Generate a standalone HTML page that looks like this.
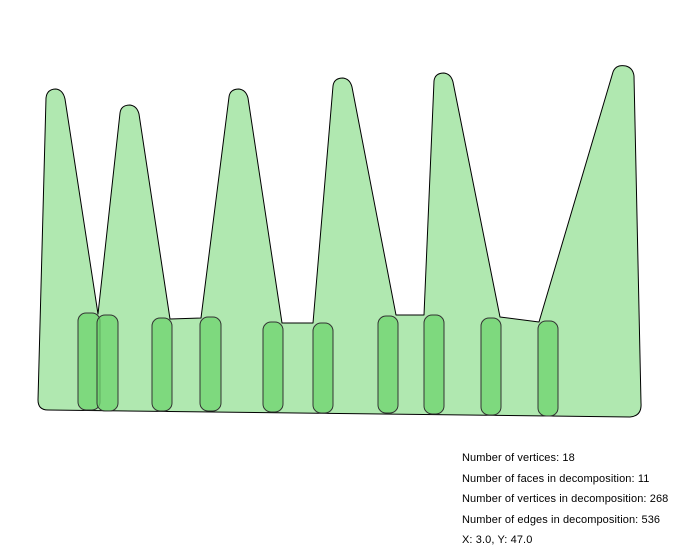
<!DOCTYPE html>
<html><head><meta charset="utf-8"><style>
body{margin:0;background:#fff;width:681px;height:552px;overflow:hidden;font-family:"Liberation Sans",sans-serif}
.t{position:absolute;left:462px;font-size:11px;color:#000;white-space:nowrap;letter-spacing:0.1px}
</style></head><body>
<svg width="681" height="552" style="position:absolute;left:0;top:0">
<path fill="#b0e8b0" stroke="#000" stroke-width="1" stroke-linejoin="round"
d="M46,98 Q47,89 56,89 Q63,90 65,99 L98,314 L120,113 Q121,105 130,105 Q137,106 139,114 L170,319 L201,318 L229,97 Q230,89 239,89 Q246,90 248,98 L282,323 L313,323 L333,86 Q334,78 343,78 Q350,79 352,87 L396,315 L424,315 L434,81 Q435,73 444,73 Q451,74 453,82 L500,317 L539,322 L613,72 Q616,64 626,66 Q633,68 634,76 L641,403 Q642,416 630,417 L48,410 Q38,410 38,400 Z"/>
<g fill="#6ed46e" fill-opacity="0.75" stroke="#333" stroke-width="1">
<rect x="78" y="313" width="22" height="97" rx="8"/>
<rect x="97" y="315" width="21" height="96" rx="8"/>
<rect x="152" y="318" width="20" height="93" rx="8"/>
<rect x="200" y="317" width="21" height="94" rx="8"/>
<rect x="263" y="322" width="20" height="90" rx="8"/>
<rect x="313" y="323" width="20" height="90" rx="8"/>
<rect x="378" y="316" width="20" height="97" rx="8"/>
<rect x="424" y="315" width="20" height="99" rx="8"/>
<rect x="481" y="318" width="20" height="97" rx="8"/>
<rect x="538" y="321" width="20" height="95" rx="8"/>
</g>
</svg>
<div class="t" style="top:452px">Number of vertices: 18</div>
<div class="t" style="top:473px">Number of faces in decomposition: 11</div>
<div class="t" style="top:493px">Number of vertices in decomposition: 268</div>
<div class="t" style="top:514px">Number of edges in decomposition: 536</div>
<div class="t" style="top:534px">X: 3.0, Y: 47.0</div>
</body></html>
